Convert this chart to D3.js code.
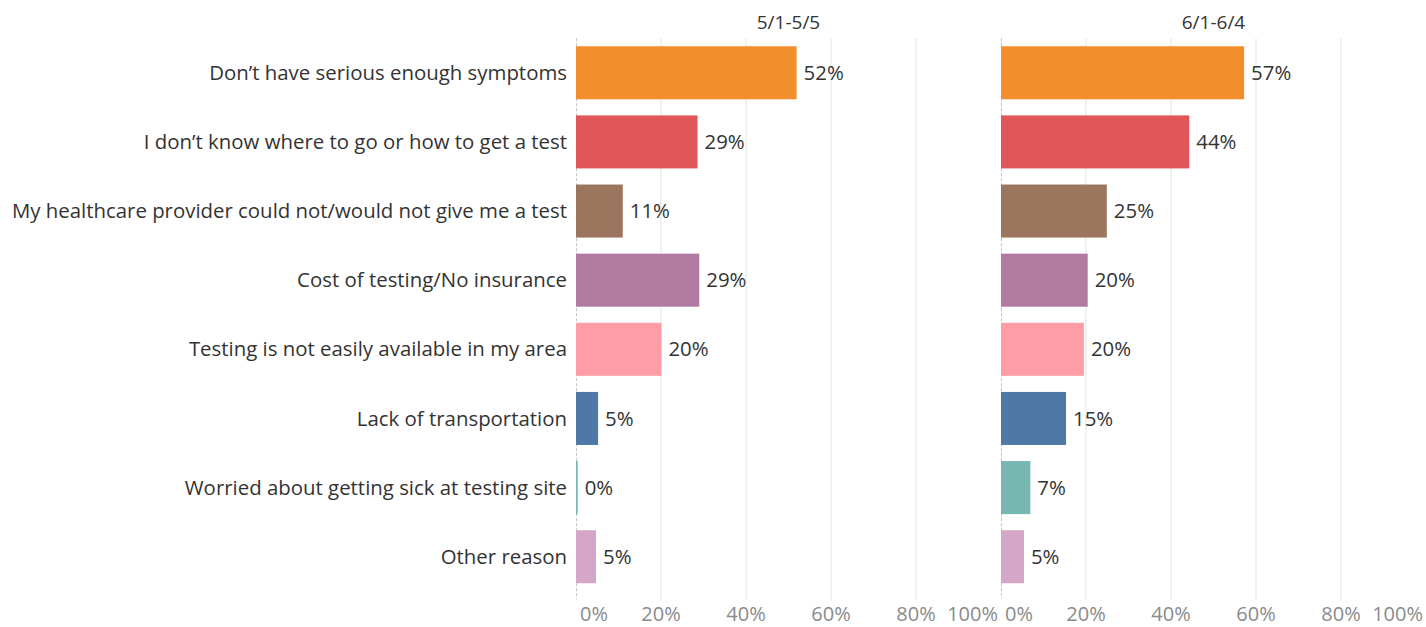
<!DOCTYPE html>
<html>
<head>
<meta charset="utf-8">
<script src="https://cdn.jsdelivr.net/npm/d3@7"></script>
<style>
  body { margin: 0; background: #fff; }
  text { font-family: "Open Sans", sans-serif; }
</style>
</head>
<body>
<script>
//chart data
var reasons = [
    "Don\u2019t have serious enough symptoms",
    "I don\u2019t know where to go or how to get a test",
    "My healthcare provider could not/would not give me a test",
    "Cost of testing/No insurance",
    "Testing is not easily available in my area",
    "Lack of transportation",
    "Worried about getting sick at testing site",
    "Other reason"
];
var periods = ["5/1-5/5", "6/1-6/4"];
var mayValues = [0.519, 0.286, 0.110, 0.290, 0.201, 0.052, 0.004, 0.047];
var juneValues = [0.572, 0.443, 0.249, 0.204, 0.195, 0.153, 0.069, 0.054];
var reasonColors = ["#F28E2B", "#E15759", "#9C755F", "#B07AA1", "#FF9DA7", "#4E79A7", "#76B7B2", "#D4A6C8"];
var tickValues = [0, 0.2, 0.4, 0.6, 0.8, 1];

window.onload = setChart();

function setChart(){
    //frame dimensions
    var width = 1426,
        height = 627,
        left = 576,
        panelWidth = 425,
        top = 38.2,
        bottom = 591.3;

    var svg = d3.select("body")
        .append("svg")
        .attr("width", width)
        .attr("height", height);

    //shared scales
    var x = d3.scaleLinear()
        .domain([0, 1])
        .range([0, panelWidth]);

    var y = d3.scaleBand()
        .domain(reasons)
        .range([top, bottom])
        .paddingInner(0.233)
        .paddingOuter(0.1165);

    var color = d3.scaleOrdinal()
        .domain(reasons)
        .range(reasonColors);

    var fmt = d3.format(".0%");

    //category labels
    svg.selectAll(".reason")
        .data(reasons)
        .enter()
        .append("text")
        .attr("class", "reason")
        .attr("x", left - 9)
        .attr("y", function(d){ return y(d) + y.bandwidth() / 2; })
        .attr("dy", "0.35em")
        .attr("text-anchor", "end")
        .style("font-size", "20.4px")
        .style("fill", "#333")
        .text(function(d){ return d; });

    var seriesList = [mayValues, juneValues];

    seriesList.forEach(function(values, p){
        var x0 = left + p * panelWidth;
        var panel = svg.append("g")
            .attr("transform", "translate(" + x0 + ",0)");

        //gridlines
        panel.selectAll(".grid")
            .data(tickValues.slice(1, 5))
            .enter()
            .append("line")
            .attr("class", "grid")
            .attr("x1", function(d){ return x(d); })
            .attr("x2", function(d){ return x(d); })
            .attr("y1", top)
            .attr("y2", bottom + 8)
            .style("stroke", "#ececec")
            .style("stroke-width", 1.5);

        //zero line
        panel.append("line")
            .attr("x1", 0.5)
            .attr("x2", 0.5)
            .attr("y1", top)
            .attr("y2", bottom + 8)
            .style("stroke", "#c4c4c4")
            .style("stroke-dasharray", "3,2");

        //bars
        panel.selectAll(".bar")
            .data(values)
            .enter()
            .append("rect")
            .attr("class", "bar")
            .attr("x", 0)
            .attr("y", function(d, i){ return y(reasons[i]); })
            .attr("width", function(d){ return x(d); })
            .attr("height", y.bandwidth())
            .style("fill", function(d, i){ return color(reasons[i]); });

        //value labels
        panel.selectAll(".val")
            .data(values)
            .enter()
            .append("text")
            .attr("class", "val")
            .attr("x", function(d){ return x(d) + 7; })
            .attr("y", function(d, i){ return y(reasons[i]) + y.bandwidth() / 2; })
            .attr("dy", "0.35em")
            .style("font-size", "20.4px")
            .style("fill", "#333")
            .text(function(d){ return fmt(d); });

        //period header
        panel.append("text")
            .attr("x", panelWidth / 2)
            .attr("y", 22)
            .attr("dy", "0.35em")
            .attr("text-anchor", "middle")
            .style("font-size", "19px")
            .style("fill", "#333")
            .text(periods[p]);

        //axis labels
        panel.selectAll(".tick")
            .data(tickValues)
            .enter()
            .append("text")
            .attr("class", "tick")
            .attr("x", function(d){
                if (d === 0) return x(d) + 4;
                if (d === 1) return x(d) - 3;
                return x(d);
            })
            .attr("y", 621)
            .attr("text-anchor", function(d){
                if (d === 0) return "start";
                if (d === 1) return "end";
                return "middle";
            })
            .style("font-size", "20px")
            .style("fill", "#8a8a8a")
            .text(function(d){ return fmt(d); });
    });
};
</script>
</body>
</html>
